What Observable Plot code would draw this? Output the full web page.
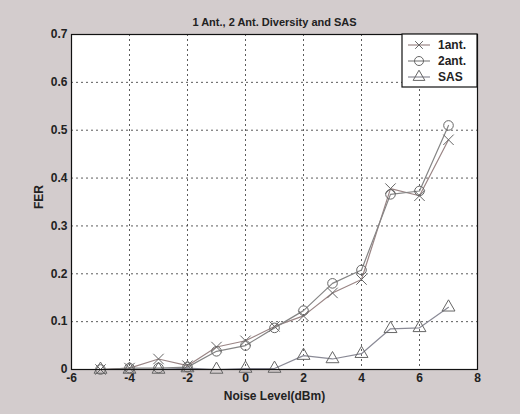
<!DOCTYPE html>
<html>
<head>
<meta charset="utf-8">
<script src="https://cdn.jsdelivr.net/npm/d3@7"></script>
<script src="https://cdn.jsdelivr.net/npm/@observablehq/plot@0.6"></script>
<style>
  html, body { margin: 0; padding: 0; background: #d3cccd; }
  #chart svg { display: block; }
</style>
</head>
<body>
<div id="chart"></div>
<script>
const title = "1 Ant., 2 Ant. Diversity and SAS";
const xLabel = "Noise Level(dBm)";
const yLabel = "FER";
const noise = [-5, -4, -3, -2, -1, 0, 1, 2, 3, 4, 5, 6, 7];
const fer1ant = [0.0, 0.003, 0.022, 0.008, 0.047, 0.060, 0.090, 0.112, 0.160, 0.188, 0.378, 0.363, 0.480];
const fer2ant = [0.0, 0.003, 0.003, 0.005, 0.038, 0.050, 0.087, 0.123, 0.180, 0.208, 0.366, 0.373, 0.510];
const ferSAS  = [0.0, 0.0, 0.0, 0.003, 0.0, 0.002, 0.002, 0.029, 0.022, 0.033, 0.085, 0.087, 0.130];
const seriesNames = ["1ant.", "2ant.", "SAS"];
const seriesSymbols = ["times", "circle", "triangle"];
const seriesColors = ["#9a8585", "#858585", "#8a8a96"];
const xTicks = [-6, -4, -2, 0, 2, 4, 6, 8];
const yTicks = [0, 0.1, 0.2, 0.3, 0.4, 0.5, 0.6, 0.7];

const allSeries = [fer1ant, fer2ant, ferSAS];
const data = [];
allSeries.forEach((vals, s) => vals.forEach((v, i) => data.push({series: seriesNames[s], x: noise[i], y: v})));

const font = "'Liberation Sans', Arial, sans-serif";
const plot = Plot.plot({
  width: 520,
  height: 414,
  marginLeft: 71,
  marginRight: 43,
  marginTop: 34,
  marginBottom: 45,
  style: {background: "#d3cccd", fontFamily: font, fontSize: "11px", fontWeight: "bold", color: "#222"},
  x: {domain: [-6, 8], ticks: xTicks, tickFormat: d => String(d)},
  y: {domain: [0, 0.7], ticks: yTicks, tickFormat: d => String(d)},
  symbol: {domain: seriesNames, range: seriesSymbols},
  color: {domain: seriesNames, range: seriesColors},
  marks: [
    Plot.frame({fill: "white", stroke: "none"}),
    Plot.gridX(xTicks, {stroke: "#333", strokeOpacity: 0.8, strokeDasharray: "2,3"}),
    Plot.gridY(yTicks, {stroke: "#333", strokeOpacity: 0.8, strokeDasharray: "2,3"}),
    Plot.axisX({ticks: xTicks, tickSize: 0, tickPadding: 4, label: null, tickFormat: d => String(d), fill: "#222", fontSize: 12}),
    Plot.axisY({ticks: yTicks, tickSize: 0, tickPadding: 4, label: null, tickFormat: d => String(d), fill: "#222", fontSize: 12}),
    Plot.line(data, {x: "x", y: "y", z: "series", stroke: "series", strokeWidth: 1.2}),
    Plot.dot(data, {x: "x", y: "y", symbol: "series", stroke: "#666", fill: "none", r: 4.8, strokeWidth: 1}),
    Plot.frame({stroke: "#111", strokeWidth: 1.2}),
    Plot.text([title], {frameAnchor: "top", dy: -16, text: d => d, fontSize: 11, fontWeight: "bold", fill: "#222"}),
    Plot.text([xLabel], {frameAnchor: "bottom", dy: 30, text: d => d, fontSize: 12, fontWeight: "bold", fill: "#222"}),
    Plot.text([yLabel], {frameAnchor: "left", dx: -32, dy: 7, rotate: -90, text: d => d, fontSize: 12, fontWeight: "bold", fill: "#222"})
  ]
});

// Legend box (inside plot area, top-right), built from the series arrays
const svg = d3.select(plot);
const lx = 520 - 43 - 75, ly = 34, lw = 75, lh = 53;
const g = svg.append("g").attr("font-family", font).attr("font-size", 12).attr("font-weight", "bold")
  .attr("text-anchor", "start");
g.append("rect").attr("x", lx).attr("y", ly).attr("width", lw).attr("height", lh)
  .attr("fill", "white").attr("stroke", "#111").attr("stroke-width", 1.2);
const symGen = {
  times: d3.symbolTimes, circle: d3.symbolCircle, triangle: d3.symbolTriangle
};
seriesNames.forEach((name, i) => {
  const cy = ly + 11 + i * 16;
  g.append("line").attr("x1", lx + 6).attr("x2", lx + 28).attr("y1", cy).attr("y2", cy)
    .attr("stroke", seriesColors[i]).attr("stroke-width", 1.2);
  const area = seriesSymbols[i] === "circle" ? Math.PI * 4.5 * 4.5 : (seriesSymbols[i] === "triangle" ? 60 : 40);
  g.append("path").attr("transform", `translate(${lx + 17},${cy})`)
    .attr("d", d3.symbol(symGen[seriesSymbols[i]], area)())
    .attr("fill", "none").attr("stroke", "#666");
  g.append("text").attr("x", lx + 36).attr("y", cy).attr("dy", "0.35em").attr("fill", "#222").text(name);
});

document.getElementById("chart").appendChild(plot);
</script>
</body>
</html>
